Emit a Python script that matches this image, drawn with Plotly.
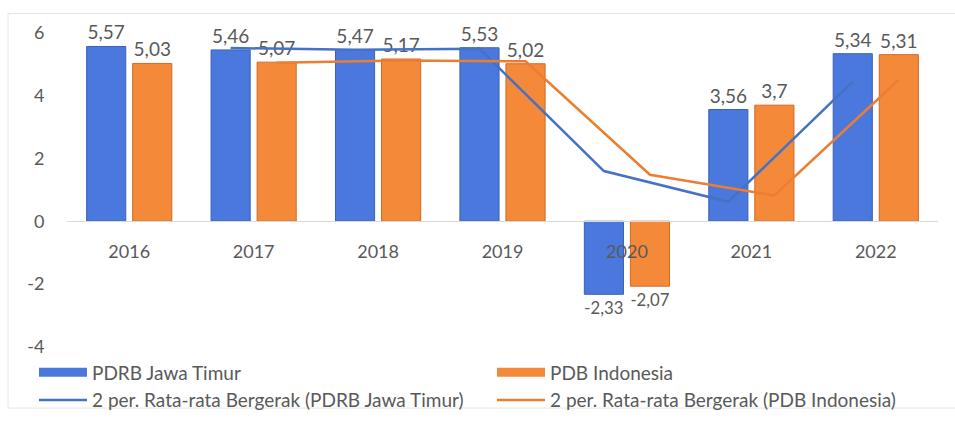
import plotly.graph_objects as go

years = ["2016", "2017", "2018", "2019", "2020", "2021", "2022"]
pdrb_jatim = [5.57, 5.46, 5.47, 5.53, -2.33, 3.56, 5.34]
pdb_indonesia = [5.03, 5.07, 5.17, 5.02, -2.07, 3.70, 5.31]
ma_pdrb = [None, 5.52, 5.47, 5.50, 1.60, 0.62, 4.45]
ma_pdb = [None, 5.05, 5.12, 5.10, 1.48, 0.82, 4.51]
y_ticks = [-4, -2, 0, 2, 4, 6]
y_tick_labels = ["-4", "-2", "0", "2", "4", "6"]
y_range = [-4, 6]

def fmt(v):
    s = ("%.2f" % v).rstrip("0").rstrip(".")
    return s.replace(".", ",")

FONT = "Lato"
TXT = "#595959"
BLUE_BAR, BLUE_EDGE = "#4a78dc", "#3a62b8"
ORANGE_BAR, ORANGE_EDGE = "#f5893a", "#d06a22"

# layout geometry (pixels)
W, H = 955, 421
M_L, M_R, M_T, M_B = 10, 0, 33, 0
PLOT_LEFT_PX, PLOT_RIGHT_PX, PLOT_BOTTOM_PX = 67, 938, 355
paper_w = W - M_L - M_R
paper_h = H - M_T - M_B
dom_x = [(PLOT_LEFT_PX - M_L) / paper_w, (PLOT_RIGHT_PX - M_L) / paper_w]
dom_low = (H - M_B - PLOT_BOTTOM_PX) / paper_h
zero_frac = (0 - y_range[0]) / (y_range[1] - y_range[0])
xaxis_pos = dom_low + zero_frac * (1 - dom_low)

def px_x(p):
    return (p - M_L) / paper_w

def px_y(p):
    return (H - M_B - p) / paper_h

fig = go.Figure()
fig.add_trace(go.Bar(
    x=years, y=pdrb_jatim, name="PDRB Jawa Timur", offsetgroup="a", showlegend=False,
    marker=dict(color=BLUE_BAR, line=dict(color=BLUE_EDGE, width=1)),
    text=[fmt(v) for v in pdrb_jatim], textposition="outside", cliponaxis=False,
    textfont=dict(family=FONT, size=19, color=TXT),
))
fig.add_trace(go.Bar(
    x=years, y=pdb_indonesia, name="PDB Indonesia", offsetgroup="b", showlegend=False,
    marker=dict(color=ORANGE_BAR, line=dict(color=ORANGE_EDGE, width=1)),
    text=[fmt(v) for v in pdb_indonesia], textposition="outside", cliponaxis=False,
    textfont=dict(family=FONT, size=19, color=TXT),
))
# legend proxies for the bar series (wide rectangular keys)
fig.add_trace(go.Scatter(x=years, y=[None] * len(years), name="PDRB Jawa Timur",
                         mode="lines", line=dict(color=BLUE_BAR, width=9), hoverinfo="skip"))
fig.add_trace(go.Scatter(x=years, y=[None] * len(years), name="PDB Indonesia",
                         mode="lines", line=dict(color=ORANGE_BAR, width=9), hoverinfo="skip"))
fig.add_trace(go.Scatter(
    x=years, y=ma_pdrb, name="2 per. Rata-rata Bergerak (PDRB Jawa Timur)",
    mode="lines", offsetgroup="a", line=dict(color="#4472c4", width=2.5),
))
fig.add_trace(go.Scatter(
    x=years, y=ma_pdb, name="2 per. Rata-rata Bergerak (PDB Indonesia)",
    mode="lines", offsetgroup="b", line=dict(color="#ed7d31", width=2.5),
))

fig.update_layout(
    width=W, height=H,
    margin=dict(l=M_L, r=M_R, t=M_T, b=M_B),
    paper_bgcolor="white", plot_bgcolor="white",
    barmode="group", bargap=0.26, bargroupgap=0.15,
    scattermode="group", scattergap=0.26,
    font=dict(family=FONT, size=18, color=TXT),
    showlegend=True,
    legend=dict(orientation="h", xref="paper", yref="paper",
                x=px_x(34), xanchor="left",
                y=px_y(362), yanchor="top",
                entrywidth=395, entrywidthmode="pixels",
                font=dict(family=FONT, size=19, color=TXT), traceorder="normal",
                itemwidth=48, bgcolor="rgba(0,0,0,0)"),
    shapes=[dict(type="rect", xref="paper", yref="paper",
                 x0=px_x(8), x1=px_x(975),
                 y0=px_y(418), y1=px_y(13),
                 line=dict(color="#e6e6e6", width=1), layer="below")],
)
fig.update_xaxes(type="category", domain=dom_x, anchor="free", position=xaxis_pos,
                 showline=True, linecolor="#d9d9d9", linewidth=1,
                 ticks="outside", ticklen=14, tickcolor="rgba(0,0,0,0)",
                 showgrid=False, zeroline=False,
                 tickfont=dict(family=FONT, size=18, color=TXT))
fig.update_yaxes(range=y_range, domain=[dom_low, 1], tickvals=y_ticks, ticktext=y_tick_labels,
                 showgrid=False, zeroline=False, showline=False,
                 ticks="outside", ticklen=18, tickcolor="rgba(0,0,0,0)",
                 tickfont=dict(family=FONT, size=18, color=TXT))

fig.write_html("out.html")
